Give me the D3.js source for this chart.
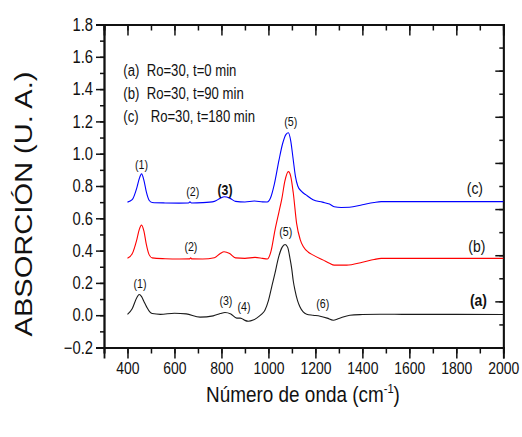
<!DOCTYPE html>
<html>
<head>
<meta charset="utf-8">
<script src="https://cdn.jsdelivr.net/npm/d3@7"></script>
<style>
  body { margin: 0; background: #fff; }
  text { fill: #111; font-family: 'Liberation Sans', Arial, sans-serif; }
</style>
</head>
<body>
<svg id="chart" width="522" height="437"></svg>
<script>
// FTIR spectra, absorbance vs wavenumber, three reaction times
const waveC = [400,420,440,450,460,470,480,492,505,560,620,660,666,672,720,770,795,812,835,860,900,940,975,995,1010,1025,1045,1060,1075,1085,1095,1105,1115,1125,1140,1160,1190,1230,1260,1280,1310,1345,1400,1450,1480,1600,1800,2000];
const absC  = [0.700,0.715,0.790,0.845,0.875,0.835,0.765,0.712,0.698,0.695,0.694,0.695,0.702,0.695,0.697,0.705,0.724,0.733,0.725,0.705,0.701,0.707,0.702,0.701,0.730,0.810,0.960,1.060,1.120,1.130,1.080,0.970,0.860,0.800,0.768,0.745,0.715,0.700,0.688,0.672,0.667,0.668,0.684,0.698,0.703,0.703,0.703,0.703];

const waveB = [400,420,440,450,460,470,480,492,505,560,620,665,669,673,720,770,795,811,835,860,900,943,975,995,1010,1028,1045,1057,1070,1085,1095,1106,1120,1135,1149,1170,1191,1234,1260,1280,1333,1400,1450,1480,1600,1800,2000];
const absB  = [0.352,0.380,0.470,0.530,0.558,0.520,0.440,0.375,0.355,0.350,0.348,0.349,0.356,0.349,0.348,0.356,0.382,0.393,0.382,0.355,0.352,0.358,0.352,0.348,0.390,0.527,0.640,0.720,0.830,0.889,0.860,0.755,0.569,0.470,0.424,0.390,0.372,0.341,0.322,0.310,0.310,0.328,0.345,0.352,0.352,0.352,0.352];

const waveA = [400,420,440,450,460,470,482,495,505,540,600,650,709,765,795,815,840,865,880,886,900,914,935,950,970,985,1000,1014,1028,1042,1058,1071,1082,1092,1099,1106,1113,1124,1134,1148,1163,1190,1220,1250,1276,1300,1347,1400,1475,1600,1800,2000];
const absA  = [0.005,0.040,0.110,0.128,0.115,0.085,0.050,0.020,0.010,0.005,0.012,0.008,-0.012,-0.004,0.010,0.017,0.008,-0.018,-0.018,-0.020,-0.032,-0.037,-0.030,-0.018,0.005,0.031,0.090,0.176,0.260,0.352,0.420,0.438,0.420,0.350,0.290,0.210,0.155,0.090,0.052,0.020,0.006,0.000,-0.006,-0.018,-0.031,-0.020,0.000,0.004,0.006,0.005,0.005,0.004];

const legendKeys  = ["(a)", "(b)", "(c)"];
const legendTexts = ["Ro=30, t=0 min", "Ro=30, t=90 min", "Ro=30, t=180 min"];

// band numbers placed at (wavenumber, absorbance)
const bandText = ["(1)", "(2)", "(3)", "(5)", "(2)", "(1)", "(3)", "(4)", "(5)", "(6)"];
const bandWave = [460, 678, 815, 1095, 670, 453, 819, 896, 1074, 1231];
const bandAbs  = [0.935, 0.765, 0.780, 1.199, 0.424, 0.197, 0.093, 0.056, 0.517, 0.073];

const curveKeys = ["(c)", "(b)", "(a)"];
const curveKeyWave = [1879, 1887, 1894];
const curveKeyAbs  = [0.786, 0.424, 0.093];

const xMajor = d3.range(400, 2001, 200);
const xMinor = d3.range(300, 2001, 100);
const yMajor = d3.range(-0.2, 1.81, 0.2).map(v => +v.toFixed(1));
const yMinor = d3.range(-0.2, 1.81, 0.1).map(v => +v.toFixed(1));
const rightMajor = d3.range(0, 7.01, 1);
const rightMinor = d3.range(0, 7.01, 0.5);

const svg = d3.select("#chart");
const x = d3.scaleLinear().domain([300, 2000]).range([104, 503.3]);
const y = d3.scaleLinear().domain([-0.2, 1.8]).range([347.5, 24.5]);
const yRight = d3.scaleLinear().domain([0, 7]).range([347.5, 24.5]);

// squeeze text horizontally to a condensed look
function narrow(sel, k = 0.82) {
  sel.each(function () {
    const len = this.getComputedTextLength();
    d3.select(this).attr("textLength", len * k).attr("lengthAdjust", "spacingAndGlyphs");
  });
}

function styleAxis(g) {
  g.select(".domain").attr("stroke", "#111").attr("stroke-width", 1.8);
  g.selectAll(".tick line").attr("stroke", "#111").attr("stroke-width", 1.5);
}

// bottom
svg.append("g").attr("transform", "translate(0,347.5)")
  .call(d3.axisBottom(x).tickValues(xMinor).tickSize(6).tickFormat(""))
  .call(styleAxis);
svg.append("g").attr("transform", "translate(0,347.5)")
  .call(d3.axisBottom(x).tickValues(xMajor).tickSize(11).tickPadding(3).tickFormat(d3.format("d")))
  .call(styleAxis)
  .call(g => g.selectAll("text").attr("font-family", null).attr("font-size", 17).attr("fill", "#111").call(narrow));

// top
svg.append("g").attr("transform", "translate(0,24.5)")
  .call(d3.axisBottom(x).tickValues(xMinor).tickSize(6).tickFormat(""))
  .call(styleAxis);
svg.append("g").attr("transform", "translate(0,24.5)")
  .call(d3.axisBottom(x).tickValues(xMajor).tickSize(11).tickFormat(""))
  .call(styleAxis);

// left
svg.append("g").attr("transform", "translate(104,0)")
  .call(d3.axisLeft(y).tickValues(yMinor).tickSize(4).tickFormat(""))
  .call(styleAxis);
svg.append("g").attr("transform", "translate(104,0)")
  .call(d3.axisLeft(y).tickValues(yMajor).tickSize(8).tickPadding(3).tickFormat(d3.format(".1f")))
  .call(styleAxis)
  .call(g => g.selectAll("text").attr("font-family", null).attr("font-size", 18).attr("fill", "#111").call(narrow));

// right
svg.append("g").attr("transform", "translate(503.3,0)")
  .call(d3.axisLeft(yRight).tickValues(rightMinor).tickSize(4).tickFormat(""))
  .call(styleAxis)
  .call(g => g.selectAll(".tick line").attr("x2", 0).attr("x1", -4));
svg.append("g").attr("transform", "translate(503.3,0)")
  .call(d3.axisLeft(yRight).tickValues(rightMajor).tickSize(8).tickFormat(""))
  .call(styleAxis)
  .call(g => g.selectAll(".tick line").attr("x2", 0).attr("x1", -8));

// spectra
const line = d3.line().x(d => x(d[0])).y(d => y(d[1])).curve(d3.curveMonotoneX);
const series = [
  { w: waveA, a: absA, color: "#1a1a1a" },
  { w: waveB, a: absB, color: "#ff0000" },
  { w: waveC, a: absC, color: "#0000ff" }
];
svg.append("g").selectAll("path").data(series).join("path")
  .attr("d", s => line(d3.zip(s.w, s.a)))
  .attr("fill", "none")
  .attr("stroke", s => s.color)
  .attr("stroke-width", 1.1);

// band labels
svg.append("g").selectAll("text").data(bandText).join("text")
  .attr("x", (t, i) => x(bandWave[i]))
  .attr("y", (t, i) => y(bandAbs[i]))
  .attr("text-anchor", "middle")
  .attr("dominant-baseline", "central")
  .attr("font-size", (t, i) => i === 2 ? 15 : 13)
  .attr("font-weight", (t, i) => i === 2 ? "bold" : "normal")
  .text(t => t)
  .call(narrow);

// curve keys at right
svg.append("g").selectAll("text").data(curveKeys).join("text")
  .attr("x", (t, i) => x(curveKeyWave[i]))
  .attr("y", (t, i) => y(curveKeyAbs[i]))
  .attr("text-anchor", "middle")
  .attr("dominant-baseline", "central")
  .attr("font-size", 17)
  .attr("font-weight", t => t === "(a)" ? "bold" : "normal")
  .text(t => t)
  .call(narrow);

// legend
const leg = svg.append("g");
legendKeys.forEach((k, i) => {
  leg.append("text").attr("font-size", 16)
    .attr("x", 123.3).attr("y", 75.5 + i * 23.3).text(k).call(narrow);
  leg.append("text").attr("font-size", 16)
    .attr("x", i === 2 ? 150.7 : 146.7).attr("y", 75.5 + i * 23.3).text(legendTexts[i]).call(narrow);
});

// axis titles
const xt = svg.append("g").attr("transform", "translate(303,402) scale(0.86,1)")
  .append("text").attr("font-size", 22).attr("text-anchor", "middle");
xt.append("tspan").text("Número de onda (cm");
xt.append("tspan").attr("font-size", 13).attr("dy", -9).text("-1");
xt.append("tspan").attr("dy", 9).text(")");

svg.append("text")
  .attr("transform", "translate(31.5,204) rotate(-90)")
  .attr("text-anchor", "middle")
  .attr("font-size", 23)
  .attr("textLength", 265)
  .attr("lengthAdjust", "spacingAndGlyphs")
  .text("ABSORCIÓN (U. A.)");
</script>
</body>
</html>
